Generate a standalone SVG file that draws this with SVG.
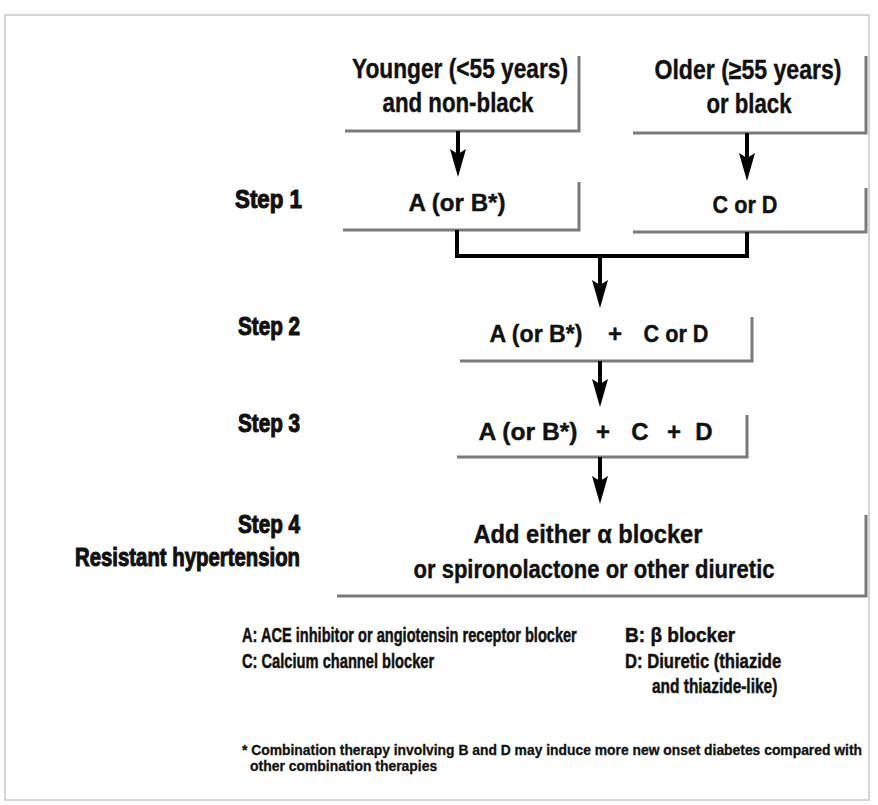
<svg xmlns="http://www.w3.org/2000/svg" width="878" height="805" viewBox="0 0 878 805">
<style>
text{font-family:"Liberation Sans",Arial,sans-serif;font-weight:bold;fill:#111;stroke:#111;stroke-width:0.4}
.top{font-size:27px;text-anchor:middle}
.box{font-size:24px;text-anchor:middle}
.step{font-size:26px;text-anchor:end;stroke-width:1.1}
.s4{font-size:25px;text-anchor:middle}
.leg{font-size:21px;stroke-width:0.5}
.foot{font-size:14px;stroke-width:0.3}
.edge{fill:none;stroke:#7a7a7a;stroke-width:3}
.conn{fill:none;stroke:#000;stroke-width:4}
.frame{fill:none;stroke:#c8c8c8;stroke-width:1.5}
</style>
<defs>
<marker id="arr" markerUnits="userSpaceOnUse" markerWidth="28" markerHeight="16" refX="5" refY="8" orient="auto" viewBox="0 0 28 16">
<path d="M0,0 L28,8 L0,16 L5,8 Z" fill="#000"/>
</marker>
</defs>
<rect width="878" height="805" fill="#fff"/>
<rect class="frame" x="5" y="15" width="864" height="785"/>

<g id="younger">
<path class="edge" d="M345,131 H579 V56"/>
<text class="top" x="460" y="78" textLength="216" lengthAdjust="spacingAndGlyphs">Younger (&lt;55 years)</text>
<text class="top" x="458" y="112" textLength="151" lengthAdjust="spacingAndGlyphs">and non-black</text>
</g>
<g id="older">
<path class="edge" d="M633,133 H866 V56" stroke="#b0b0b0"/>
<text class="top" x="748" y="79" textLength="187" lengthAdjust="spacingAndGlyphs">Older (≥55 years)</text>
<text class="top" x="749" y="113" textLength="85" lengthAdjust="spacingAndGlyphs">or black</text>
</g>
<g id="step1-label"><text class="step" x="302" y="208" textLength="67" lengthAdjust="spacingAndGlyphs">Step 1</text></g>
<g id="step1-a">
<path class="edge" d="M343,230 H579 V182"/>
<text class="box" x="457" y="211" textLength="97" lengthAdjust="spacingAndGlyphs">A (or B*)</text>
</g>
<g id="step1-cd">
<path class="edge" d="M633,232 H866 V188" stroke="#b0b0b0"/>
<text class="box" x="745" y="213" textLength="65" lengthAdjust="spacingAndGlyphs">C or D</text>
</g>
<g id="step2-label"><text class="step" x="300" y="335" textLength="62" lengthAdjust="spacingAndGlyphs">Step 2</text></g>
<g id="step2">
<path class="edge" d="M460,361 H752 V317"/>
<text class="box" x="536" y="342" textLength="93" lengthAdjust="spacingAndGlyphs">A (or B*)</text>
<text class="box" x="615" y="342">+</text>
<text class="box" x="676" y="342" textLength="65" lengthAdjust="spacingAndGlyphs">C or D</text>
</g>
<g id="step3-label"><text class="step" x="300" y="432" textLength="62" lengthAdjust="spacingAndGlyphs">Step 3</text></g>
<g id="step3">
<path class="edge" d="M457,457 H747 V415"/>
<text class="box" x="528" y="440" textLength="99" lengthAdjust="spacingAndGlyphs">A (or B*)</text>
<text class="box" x="603" y="440">+</text>
<text class="box" x="640" y="440">C</text>
<text class="box" x="674" y="440">+</text>
<text class="box" x="704" y="440">D</text>
</g>
<g id="step4-label">
<text class="step" x="300" y="533" textLength="62" lengthAdjust="spacingAndGlyphs">Step 4</text>
<text class="step" x="300" y="566" textLength="225" lengthAdjust="spacingAndGlyphs">Resistant hypertension</text>
</g>
<g id="step4">
<path class="edge" d="M337,596 H866 V515" stroke="#9a9a9a"/>
<text class="s4" x="588" y="543" textLength="229" lengthAdjust="spacingAndGlyphs">Add either α blocker</text>
<text class="s4" x="594" y="578" textLength="361" lengthAdjust="spacingAndGlyphs">or spironolactone or other diuretic</text>
</g>

<g id="connectors">
<line class="conn" x1="458" y1="131" x2="458" y2="154" marker-end="url(#arr)"/>
<line class="conn" x1="747" y1="133" x2="747" y2="158" marker-end="url(#arr)"/>
<path class="conn" d="M457,230 V256 H747 V232"/>
<line class="conn" x1="600" y1="254" x2="600" y2="285" marker-end="url(#arr)"/>
<line class="conn" x1="600" y1="361" x2="600" y2="384" marker-end="url(#arr)"/>
<line class="conn" x1="600" y1="457" x2="600" y2="481" marker-end="url(#arr)"/>
</g>

<g id="legend">
<text class="leg" transform="translate(242,642) scale(0.72,1)" textLength="465" lengthAdjust="spacingAndGlyphs">A: ACE inhibitor or angiotensin receptor blocker</text>
<text class="leg" transform="translate(242,668) scale(0.72,1)" textLength="267" lengthAdjust="spacingAndGlyphs">C: Calcium channel blocker</text>
<text class="leg" transform="translate(625,642) scale(0.72,1)" textLength="153" lengthAdjust="spacingAndGlyphs">B: β blocker</text>
<text class="leg" transform="translate(625,668) scale(0.72,1)" textLength="217" lengthAdjust="spacingAndGlyphs">D: Diuretic (thiazide</text>
<text class="leg" transform="translate(652,693) scale(0.72,1)" textLength="174" lengthAdjust="spacingAndGlyphs">and thiazide-like)</text>
</g>
<g id="footnote">
<text class="foot" transform="translate(242,755) scale(0.8,1)" textLength="775" lengthAdjust="spacingAndGlyphs">* Combination therapy involving B and D may induce more new onset diabetes compared with</text>
<text class="foot" transform="translate(250,771) scale(0.8,1)" textLength="234" lengthAdjust="spacingAndGlyphs">other combination therapies</text>
</g>
</svg>
